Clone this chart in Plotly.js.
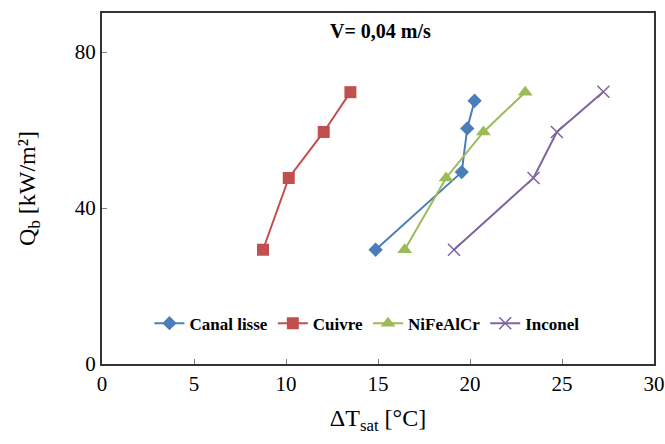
<!DOCTYPE html>
<html>
<head>
<meta charset="utf-8">
<script src="https://cdn.plot.ly/plotly-3.0.1.min.js"></script>
<style>html,body{margin:0;padding:0;background:#fff;}#chart{width:665px;height:444px;}</style>
</head>
<body>
<div id="chart"></div>
<script>
const seriesNames = ["Canal lisse", "Cuivre", "NiFeAlCr", "Inconel"];
const canalX = [14.87, 19.55, 19.85, 20.25];
const canalY = [29.3, 49.2, 60.4, 67.5];
const cuivreX = [8.75, 10.15, 12.05, 13.5];
const cuivreY = [29.3, 47.7, 59.5, 69.7];
const nifeX = [16.45, 18.7, 20.73, 23.0];
const nifeY = [29.3, 47.7, 59.5, 69.7];
const inconelX = [19.13, 23.45, 24.72, 27.25];
const inconelY = [29.3, 47.7, 59.5, 69.8];
const xTicks = [0, 5, 10, 15, 20, 25, 30];
const yTicks = [0, 40, 80];

const colors = ["#4a7ebb", "#c0504d", "#9bbb59", "#8064a2"];
const symbols = ["diamond", "square", "triangle-up", "x-thin"];
const sizes = [11, 12, 13, 12];
const xs = [canalX, cuivreX, nifeX, inconelX];
const ys = [canalY, cuivreY, nifeY, inconelY];

const traces = seriesNames.map((n, i) => ({
  type: "scatter", mode: "lines+markers", name: n,
  x: xs[i], y: ys[i],
  line: {color: colors[i], width: 2},
  marker: {color: colors[i], symbol: symbols[i], size: sizes[i],
           line: {color: colors[i], width: symbols[i] === "x-thin" ? 1.5 : 0}}
}));

const fam = "'Liberation Serif', 'Times New Roman', serif";
const layout = {
  width: 665, height: 444,
  margin: {l: 102, r: 11, t: 13, b: 80},
  paper_bgcolor: "#fff", plot_bgcolor: "#fff",
  font: {family: fam, color: "#000", size: 18},
  showlegend: true,
  legend: {orientation: "h", x: 0.48, xanchor: "center", y: 0.115, yanchor: "middle",
           font: {family: fam, size: 17, weight: "bold", color: "#000"}, bgcolor: "rgba(0,0,0,0)",
           itemwidth: 30, tracegroupgap: 0},
  xaxis: {range: [0, 30], tickvals: xTicks, ticks: "inside", ticklen: 5, tickcolor: "#808080",
          showgrid: false, zeroline: false, showline: true, linecolor: "#333", linewidth: 2, mirror: true,
          tickfont: {size: 21, family: fam, color: "#000"},
          title: {text: "ΔT<sub>sat</sub> [°C]", font: {size: 24, family: fam, color: "#000"}, standoff: 14}},
  yaxis: {range: [0, 90], tickvals: yTicks, ticks: "inside", ticklen: 5, tickcolor: "#808080",
          showgrid: false, zeroline: false, showline: true, linecolor: "#333", linewidth: 2, mirror: true,
          tickfont: {size: 21, family: fam, color: "#000"},
          title: {text: "Q<sub>b</sub> [kW/m²]", font: {size: 24, family: fam, color: "#000"}, standoff: 32}},
  annotations: [{text: "<b>V= 0,04 m/s</b>", xref: "paper", yref: "paper", x: 0.505, y: 0.95,
                 xanchor: "center", yanchor: "middle", showarrow: false,
                 font: {size: 20, family: fam, color: "#000"}}]
};
Plotly.newPlot("chart", traces, layout, {staticPlot: true, displayModeBar: false});
</script>
</body>
</html>
